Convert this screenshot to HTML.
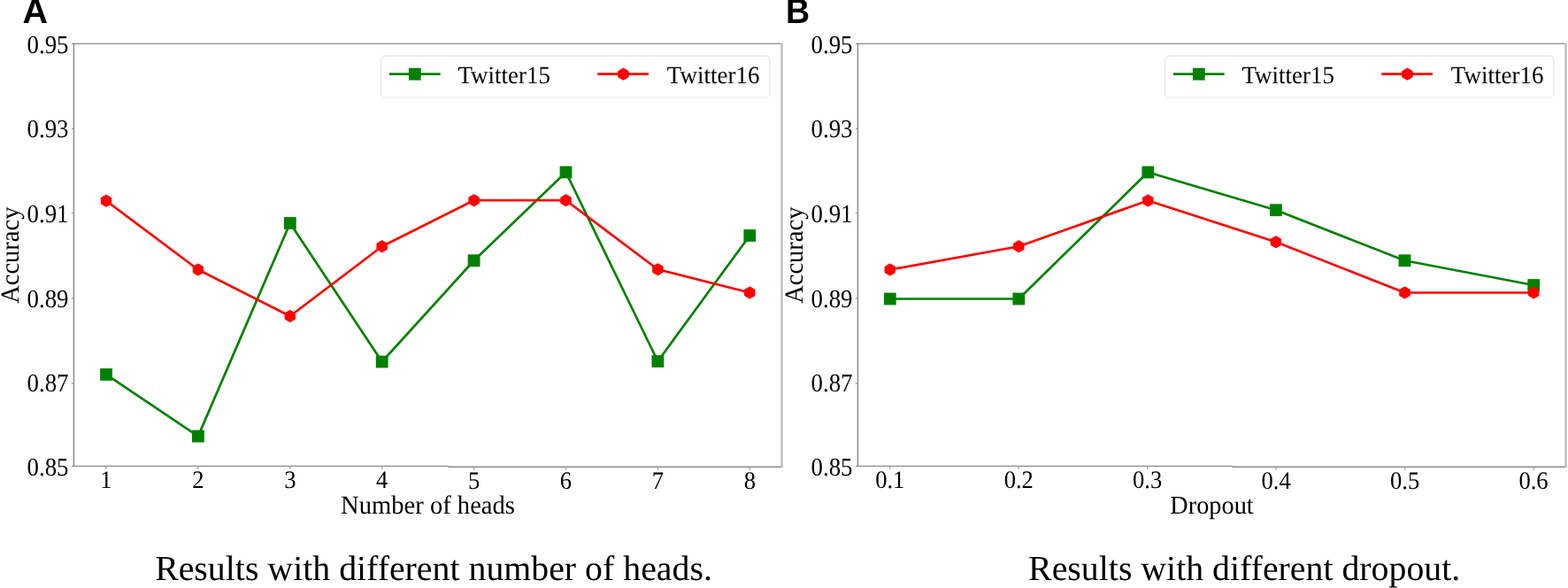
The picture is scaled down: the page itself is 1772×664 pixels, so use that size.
<!DOCTYPE html>
<html lang="en">
<head>
<meta charset="utf-8">
<title>Results with different number of heads and dropout</title>
<style>
html,body{margin:0;padding:0;background:#fff;}
body{width:1772px;height:664px;overflow:hidden;font-family:"Liberation Serif", serif;}
svg{display:block;text-rendering:geometricPrecision;filter:blur(0.35px);}
</style>
</head>
<body>
<svg width="1772" height="664" viewBox="0 0 1772 664" font-family='"Liberation Serif", serif' fill="#000">
<g>
<text transform="translate(25.6 26.3) scale(1 1)" font-family='"Liberation Sans", sans-serif' font-weight="700" font-size="39.5">A</text>
<path d="M81.0 49.45H883.5" fill="none" stroke="#8c8c8c" stroke-width="1.3"/>
<path d="M83.4 48.85V527.05" fill="none" stroke="#8c8c8c" stroke-width="1.5"/>
<path d="M81.0 526.45H507.1" fill="none" stroke="#8c8c8c" stroke-width="1.3"/>
<path d="M506.5 527.3H884.4" fill="none" stroke="#8c8c8c" stroke-width="1.4"/>
<path d="M883.5 49.05V527.85" fill="none" stroke="#b4b4b4" stroke-width="2.1"/>
<text transform="translate(77.55 59.65) scale(1 1.08)" text-anchor="end" font-size="26.9">0.95</text>
<line x1="80.8" y1="145.5" x2="83.4" y2="145.5" stroke="#8c8c8c" stroke-width="1.1"/>
<text transform="translate(77.55 155.15) scale(1 1.08)" text-anchor="end" font-size="26.9">0.93</text>
<line x1="80.8" y1="240.7" x2="83.4" y2="240.7" stroke="#8c8c8c" stroke-width="1.1"/>
<text transform="translate(77.55 250.95) scale(1 1.08)" text-anchor="end" font-size="26.9">0.91</text>
<line x1="80.8" y1="336.7" x2="83.4" y2="336.7" stroke="#8c8c8c" stroke-width="1.1"/>
<text transform="translate(77.55 346.95) scale(1 1.08)" text-anchor="end" font-size="26.9">0.89</text>
<line x1="80.8" y1="432.9" x2="83.4" y2="432.9" stroke="#8c8c8c" stroke-width="1.1"/>
<text transform="translate(77.55 442.15) scale(1 1.08)" text-anchor="end" font-size="26.9">0.87</text>
<text transform="translate(77.55 536.55) scale(1 1.08)" text-anchor="end" font-size="26.9">0.85</text>
<line x1="120.00" y1="526.45" x2="120.00" y2="529.85" stroke="#a6a6a6" stroke-width="1.4"/>
<text transform="translate(120.00 551.20) scale(1 1.06)" text-anchor="middle" font-size="26.6">1</text>
<line x1="223.90" y1="526.45" x2="223.90" y2="529.85" stroke="#a6a6a6" stroke-width="1.4"/>
<text transform="translate(223.90 551.20) scale(1 1.06)" text-anchor="middle" font-size="26.6">2</text>
<line x1="327.80" y1="526.45" x2="327.80" y2="529.85" stroke="#a6a6a6" stroke-width="1.4"/>
<text transform="translate(327.80 551.20) scale(1 1.06)" text-anchor="middle" font-size="26.6">3</text>
<line x1="431.70" y1="526.45" x2="431.70" y2="529.85" stroke="#a6a6a6" stroke-width="1.4"/>
<text transform="translate(431.70 551.20) scale(1 1.06)" text-anchor="middle" font-size="26.6">4</text>
<line x1="535.60" y1="527.3" x2="535.60" y2="530.7" stroke="#a6a6a6" stroke-width="1.4"/>
<text transform="translate(535.60 552.05) scale(1 1.06)" text-anchor="middle" font-size="26.6">5</text>
<line x1="639.50" y1="527.3" x2="639.50" y2="530.7" stroke="#a6a6a6" stroke-width="1.4"/>
<text transform="translate(639.50 552.05) scale(1 1.06)" text-anchor="middle" font-size="26.6">6</text>
<line x1="743.40" y1="527.3" x2="743.40" y2="530.7" stroke="#a6a6a6" stroke-width="1.4"/>
<text transform="translate(743.40 552.05) scale(1 1.06)" text-anchor="middle" font-size="26.6">7</text>
<line x1="847.30" y1="527.3" x2="847.30" y2="530.7" stroke="#a6a6a6" stroke-width="1.4"/>
<text transform="translate(847.30 552.05) scale(1 1.06)" text-anchor="middle" font-size="26.6">8</text>
<text transform="translate(483.50 580.40) scale(1 1.03)" text-anchor="middle" font-size="28.6">Number of heads</text>
<text transform="translate(20.9 288.2) rotate(-90) scale(1 1.03)" text-anchor="middle" font-size="28.5">Accuracy</text>
<polyline points="120.00,422.90 223.90,492.60 327.80,252.00 431.70,408.50 535.60,294.25 639.50,194.50 743.40,408.00 847.30,266.00" fill="none" stroke="#008000" stroke-width="2.7" stroke-linejoin="round"/>
<rect x="113.10" y="416.00" width="13.8" height="13.8" fill="#008000"/>
<rect x="217.00" y="485.70" width="13.8" height="13.8" fill="#008000"/>
<rect x="320.90" y="245.10" width="13.8" height="13.8" fill="#008000"/>
<rect x="424.80" y="401.60" width="13.8" height="13.8" fill="#008000"/>
<rect x="528.70" y="287.35" width="13.8" height="13.8" fill="#008000"/>
<rect x="632.60" y="187.60" width="13.8" height="13.8" fill="#008000"/>
<rect x="736.50" y="401.10" width="13.8" height="13.8" fill="#008000"/>
<rect x="840.40" y="259.10" width="13.8" height="13.8" fill="#008000"/>
<polyline points="120.00,226.75 223.90,304.50 327.80,357.00 431.70,278.25 535.60,226.25 639.50,226.25 743.40,304.25 847.30,330.50" fill="none" stroke="#ff0000" stroke-width="2.7" stroke-linejoin="round"/>
<polygon points="120.00,220.15 114.28,223.45 114.28,230.05 120.00,233.35 125.72,230.05 125.72,223.45" fill="#ff0000" stroke="#ff0000" stroke-width="1" stroke-linejoin="round"/>
<polygon points="223.90,297.90 218.18,301.20 218.18,307.80 223.90,311.10 229.62,307.80 229.62,301.20" fill="#ff0000" stroke="#ff0000" stroke-width="1" stroke-linejoin="round"/>
<polygon points="327.80,350.40 322.08,353.70 322.08,360.30 327.80,363.60 333.52,360.30 333.52,353.70" fill="#ff0000" stroke="#ff0000" stroke-width="1" stroke-linejoin="round"/>
<polygon points="431.70,271.65 425.98,274.95 425.98,281.55 431.70,284.85 437.42,281.55 437.42,274.95" fill="#ff0000" stroke="#ff0000" stroke-width="1" stroke-linejoin="round"/>
<polygon points="535.60,219.65 529.88,222.95 529.88,229.55 535.60,232.85 541.32,229.55 541.32,222.95" fill="#ff0000" stroke="#ff0000" stroke-width="1" stroke-linejoin="round"/>
<polygon points="639.50,219.65 633.78,222.95 633.78,229.55 639.50,232.85 645.22,229.55 645.22,222.95" fill="#ff0000" stroke="#ff0000" stroke-width="1" stroke-linejoin="round"/>
<polygon points="743.40,297.65 737.68,300.95 737.68,307.55 743.40,310.85 749.12,307.55 749.12,300.95" fill="#ff0000" stroke="#ff0000" stroke-width="1" stroke-linejoin="round"/>
<polygon points="847.30,323.90 841.58,327.20 841.58,333.80 847.30,337.10 853.02,333.80 853.02,327.20" fill="#ff0000" stroke="#ff0000" stroke-width="1" stroke-linejoin="round"/>
<rect x="430.6" y="63.1" width="439.2" height="46.9" rx="4.5" fill="#fff" stroke="#e6e6e6" stroke-width="1.2"/>
<line x1="439.9" y1="83.7" x2="497.7" y2="83.7" stroke="#008000" stroke-width="2.7"/>
<rect x="461.90" y="76.80" width="13.8" height="13.8" fill="#008000"/>
<text transform="translate(517.40 93.70) scale(1 1.03)" text-anchor="start" font-size="27.0">Twitter15</text>
<line x1="675.3" y1="83.7" x2="732.9" y2="83.7" stroke="#ff0000" stroke-width="2.7"/>
<polygon points="704.40,77.10 698.68,80.40 698.68,87.00 704.40,90.30 710.12,87.00 710.12,80.40" fill="#ff0000" stroke="#ff0000" stroke-width="1" stroke-linejoin="round"/>
<text transform="translate(753.80 93.70) scale(1 1.03)" text-anchor="start" font-size="27.0">Twitter16</text>
<text transform="translate(490.00 655.40) scale(1 1.0)" text-anchor="middle" font-size="39.85">Results with different number of heads.</text>
</g>
<g>
<text transform="translate(888.1 26.3) scale(0.95 1)" font-family='"Liberation Sans", sans-serif' font-weight="700" font-size="39.5">B</text>
<path d="M967.0 49.45H1769.5" fill="none" stroke="#8c8c8c" stroke-width="1.3"/>
<path d="M969.4 48.85V527.05" fill="none" stroke="#8c8c8c" stroke-width="1.5"/>
<path d="M967.0 526.45H1393.1" fill="none" stroke="#8c8c8c" stroke-width="1.3"/>
<path d="M1392.5 527.3H1770.4" fill="none" stroke="#8c8c8c" stroke-width="1.4"/>
<path d="M1769.5 49.05V527.85" fill="none" stroke="#b4b4b4" stroke-width="2.1"/>
<text transform="translate(963.55 59.65) scale(1 1.08)" text-anchor="end" font-size="26.9">0.95</text>
<line x1="966.8" y1="145.5" x2="969.4" y2="145.5" stroke="#8c8c8c" stroke-width="1.1"/>
<text transform="translate(963.55 155.15) scale(1 1.08)" text-anchor="end" font-size="26.9">0.93</text>
<line x1="966.8" y1="240.7" x2="969.4" y2="240.7" stroke="#8c8c8c" stroke-width="1.1"/>
<text transform="translate(963.55 250.95) scale(1 1.08)" text-anchor="end" font-size="26.9">0.91</text>
<line x1="966.8" y1="336.7" x2="969.4" y2="336.7" stroke="#8c8c8c" stroke-width="1.1"/>
<text transform="translate(963.55 346.95) scale(1 1.08)" text-anchor="end" font-size="26.9">0.89</text>
<line x1="966.8" y1="432.9" x2="969.4" y2="432.9" stroke="#8c8c8c" stroke-width="1.1"/>
<text transform="translate(963.55 442.15) scale(1 1.08)" text-anchor="end" font-size="26.9">0.87</text>
<text transform="translate(963.55 536.55) scale(1 1.08)" text-anchor="end" font-size="26.9">0.85</text>
<line x1="1005.80" y1="526.45" x2="1005.80" y2="529.85" stroke="#a6a6a6" stroke-width="1.4"/>
<text transform="translate(1005.80 551.20) scale(1 1.06)" text-anchor="middle" font-size="26.6">0.1</text>
<line x1="1151.25" y1="526.45" x2="1151.25" y2="529.85" stroke="#a6a6a6" stroke-width="1.4"/>
<text transform="translate(1151.25 551.20) scale(1 1.06)" text-anchor="middle" font-size="26.6">0.2</text>
<line x1="1296.70" y1="526.45" x2="1296.70" y2="529.85" stroke="#a6a6a6" stroke-width="1.4"/>
<text transform="translate(1296.70 551.20) scale(1 1.06)" text-anchor="middle" font-size="26.6">0.3</text>
<line x1="1442.15" y1="527.3" x2="1442.15" y2="530.7" stroke="#a6a6a6" stroke-width="1.4"/>
<text transform="translate(1442.15 552.05) scale(1 1.06)" text-anchor="middle" font-size="26.6">0.4</text>
<line x1="1587.60" y1="527.3" x2="1587.60" y2="530.7" stroke="#a6a6a6" stroke-width="1.4"/>
<text transform="translate(1587.60 552.05) scale(1 1.06)" text-anchor="middle" font-size="26.6">0.5</text>
<line x1="1733.05" y1="527.3" x2="1733.05" y2="530.7" stroke="#a6a6a6" stroke-width="1.4"/>
<text transform="translate(1733.05 552.05) scale(1 1.06)" text-anchor="middle" font-size="26.6">0.6</text>
<text transform="translate(1369.50 580.40) scale(1 1.03)" text-anchor="middle" font-size="28.3">Dropout</text>
<text transform="translate(906.9 288.2) rotate(-90) scale(1 1.03)" text-anchor="middle" font-size="28.5">Accuracy</text>
<polyline points="1005.80,337.50 1151.30,337.50 1297.30,194.50 1441.90,237.25 1587.50,294.25 1733.20,322.00" fill="none" stroke="#008000" stroke-width="2.7" stroke-linejoin="round"/>
<rect x="998.90" y="330.60" width="13.8" height="13.8" fill="#008000"/>
<rect x="1144.40" y="330.60" width="13.8" height="13.8" fill="#008000"/>
<rect x="1290.40" y="187.60" width="13.8" height="13.8" fill="#008000"/>
<rect x="1435.00" y="230.35" width="13.8" height="13.8" fill="#008000"/>
<rect x="1580.60" y="287.35" width="13.8" height="13.8" fill="#008000"/>
<rect x="1726.30" y="315.10" width="13.8" height="13.8" fill="#008000"/>
<polyline points="1005.80,304.50 1151.30,278.25 1297.30,226.50 1441.90,273.25 1587.50,330.50 1733.20,330.50" fill="none" stroke="#ff0000" stroke-width="2.7" stroke-linejoin="round"/>
<polygon points="1005.80,297.90 1000.08,301.20 1000.08,307.80 1005.80,311.10 1011.52,307.80 1011.52,301.20" fill="#ff0000" stroke="#ff0000" stroke-width="1" stroke-linejoin="round"/>
<polygon points="1151.30,271.65 1145.58,274.95 1145.58,281.55 1151.30,284.85 1157.02,281.55 1157.02,274.95" fill="#ff0000" stroke="#ff0000" stroke-width="1" stroke-linejoin="round"/>
<polygon points="1297.30,219.90 1291.58,223.20 1291.58,229.80 1297.30,233.10 1303.02,229.80 1303.02,223.20" fill="#ff0000" stroke="#ff0000" stroke-width="1" stroke-linejoin="round"/>
<polygon points="1441.90,266.65 1436.18,269.95 1436.18,276.55 1441.90,279.85 1447.62,276.55 1447.62,269.95" fill="#ff0000" stroke="#ff0000" stroke-width="1" stroke-linejoin="round"/>
<polygon points="1587.50,323.90 1581.78,327.20 1581.78,333.80 1587.50,337.10 1593.22,333.80 1593.22,327.20" fill="#ff0000" stroke="#ff0000" stroke-width="1" stroke-linejoin="round"/>
<polygon points="1733.20,323.90 1727.48,327.20 1727.48,333.80 1733.20,337.10 1738.92,333.80 1738.92,327.20" fill="#ff0000" stroke="#ff0000" stroke-width="1" stroke-linejoin="round"/>
<rect x="1316.6" y="63.1" width="439.2" height="46.9" rx="4.5" fill="#fff" stroke="#e6e6e6" stroke-width="1.2"/>
<line x1="1325.9" y1="83.7" x2="1383.7" y2="83.7" stroke="#008000" stroke-width="2.7"/>
<rect x="1347.90" y="76.80" width="13.8" height="13.8" fill="#008000"/>
<text transform="translate(1403.40 93.70) scale(1 1.03)" text-anchor="start" font-size="27.0">Twitter15</text>
<line x1="1561.3" y1="83.7" x2="1618.9" y2="83.7" stroke="#ff0000" stroke-width="2.7"/>
<polygon points="1590.40,77.10 1584.68,80.40 1584.68,87.00 1590.40,90.30 1596.12,87.00 1596.12,80.40" fill="#ff0000" stroke="#ff0000" stroke-width="1" stroke-linejoin="round"/>
<text transform="translate(1639.80 93.70) scale(1 1.03)" text-anchor="start" font-size="27.0">Twitter16</text>
<text transform="translate(1406.20 655.40) scale(1 1.0)" text-anchor="middle" font-size="39.85">Results with different dropout.</text>
</g>
</svg>
</body>
</html>
